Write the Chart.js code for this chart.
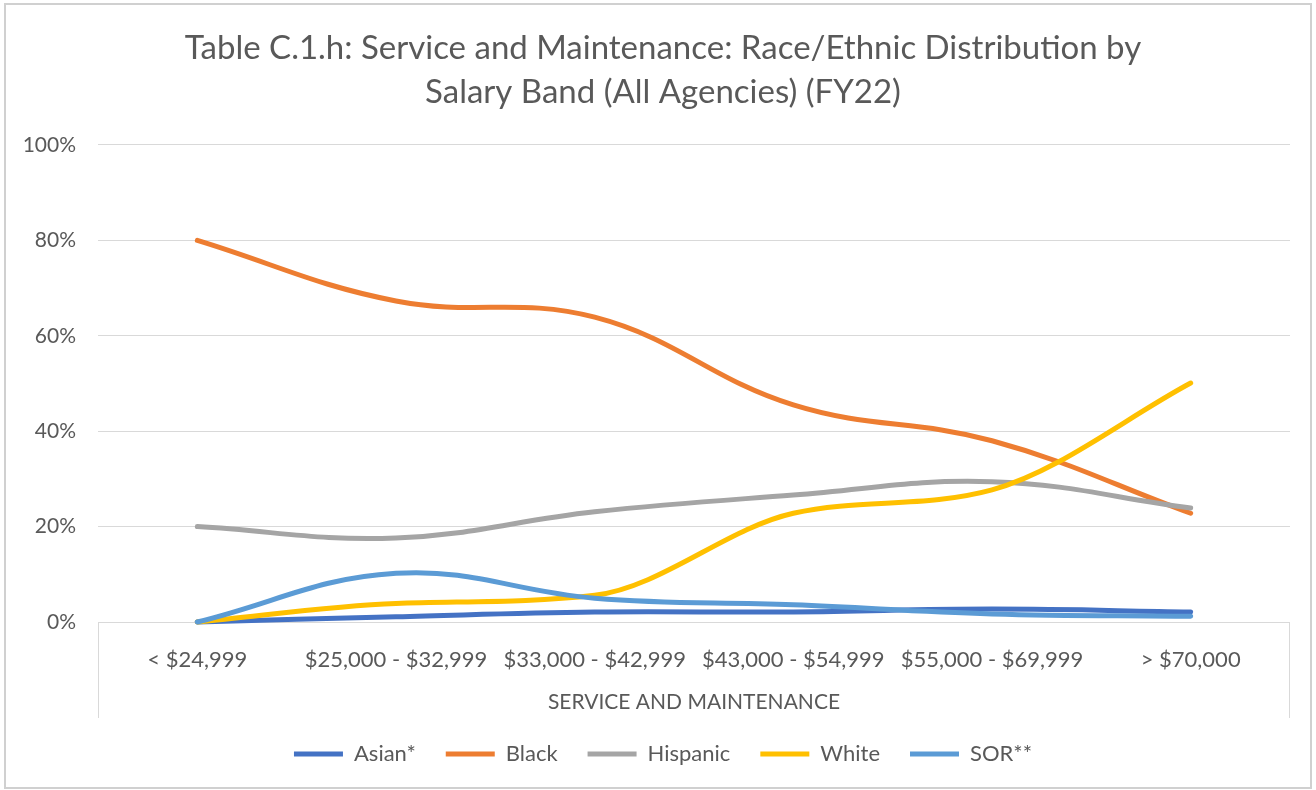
<!DOCTYPE html>
<html>
<head>
<meta charset="utf-8">
<script src="https://cdn.jsdelivr.net/npm/chart.js@4"></script>
<style>
  html, body { margin: 0; padding: 0; background: #ffffff; }
  #wrap { width: 1316px; height: 790px; position: relative; }
</style>
</head>
<body>
<div id="wrap"><canvas id="chart" width="1316" height="790"></canvas></div>
<script>
// Salary bands (category axis)
const salaryBands = ['< $24,999', '$25,000 - $32,999', '$33,000 - $42,999', '$43,000 - $54,999', '$55,000 - $69,999', '> $70,000'];

// Share of employees in each band, percent
const asian    = [0.0, 1.1, 2.1, 2.1, 2.7, 2.1];
const black    = [80.0, 67.3, 63.9, 45.5, 38.0, 22.8];
const hispanic = [20.0, 17.6, 23.1, 26.6, 29.4, 23.9];
const white    = [0.0, 3.9, 5.6, 22.8, 27.7, 50.1];
const sor      = [0.0, 10.2, 5.0, 3.6, 1.7, 1.2];

const seriesNames = ['Asian*', 'Black', 'Hispanic', 'White', 'SOR**'];
const seriesColors = ['#4472C4', '#ED7D31', '#A5A5A5', '#FFC000', '#5B9BD5'];
const seriesValues = [asian, black, hispanic, white, sor];

const yTicks = [0, 20, 40, 60, 80, 100];

const titleLines = ['Table C.1.h: Service and Maintenance: Race/Ethnic Distribution by', 'Salary Band (All Agencies) (FY22)'];
const xAxisTitle = 'SERVICE AND MAINTENANCE';

const FONT = 'Lato, "Open Sans", sans-serif';
const TEXT = '#595959';
const GRID = '#d9d9d9';

// Outer frame and the box around the category labels
const framePlugin = {
  id: 'frame',
  beforeDraw(chart) {
    const ctx = chart.ctx;
    ctx.save();
    ctx.fillStyle = '#ffffff';
    ctx.fillRect(0, 0, chart.width, chart.height);
    ctx.strokeStyle = '#d0d0d0';
    ctx.lineWidth = 2;
    ctx.strokeRect(5, 4, chart.width - 10, chart.height - 6);
    ctx.restore();
  },
  afterDraw(chart) {
    const ctx = chart.ctx;
    const a = chart.chartArea;
    ctx.save();
    ctx.strokeStyle = GRID;
    ctx.lineWidth = 1;
    ctx.beginPath();
    ctx.moveTo(Math.round(a.left) + 0.5, a.bottom);
    ctx.lineTo(Math.round(a.left) + 0.5, a.bottom + 96);
    ctx.moveTo(Math.round(a.right) - 0.5, a.bottom);
    ctx.lineTo(Math.round(a.right) - 0.5, a.bottom + 96);
    ctx.stroke();
    ctx.restore();
  }
};

const datasets = seriesNames.map((name, i) => ({
  label: name,
  data: seriesValues[i],
  borderColor: seriesColors[i],
  backgroundColor: seriesColors[i],
  borderWidth: 5,
  borderCapStyle: 'round',
  borderJoinStyle: 'round',
  tension: 0.4,
  cubicInterpolationMode: name === 'White' ? 'monotone' : 'default',
  pointRadius: 0,
  pointStyle: 'line',
  fill: false,
  order: seriesNames.length - i,
  clip: false
}));

new Chart(document.getElementById('chart'), {
  type: 'line',
  data: { labels: salaryBands, datasets },
  plugins: [framePlugin],
  options: {
    responsive: false,
    animation: false,
    layout: { padding: { left: 10, right: 0, top: 0, bottom: 15 } },
    plugins: {
      tooltip: { enabled: false },
      title: {
        display: true,
        text: titleLines,
        color: TEXT,
        font: { family: FONT, size: 33, weight: 'normal', lineHeight: 1.333 },
        padding: { top: 26, bottom: 31 }
      },
      legend: {
        position: 'bottom',
        labels: {
          usePointStyle: true,
          pointStyle: 'line',
          pointStyleWidth: 49,
          padding: 30,
          color: TEXT,
          font: { family: FONT, size: 22 },
          sort: (a, b) => a.datasetIndex - b.datasetIndex
        }
      }
    },
    scales: {
      x: {
        offset: true,
        grid: { display: false },
        border: { display: false },
        ticks: { color: TEXT, font: { family: FONT, size: 22 }, padding: 17, maxRotation: 0, autoSkip: false },
        title: { display: true, text: xAxisTitle, color: TEXT, font: { family: FONT, size: 21, lineHeight: 1.0 }, padding: { top: 0, bottom: 0 } },
        afterFit(scale) { scale.height = 91; }
      },
      y: {
        min: 0,
        max: 100,
        afterBuildTicks(scale) { scale.ticks = yTicks.map(v => ({ value: v })); },
        grid: { color: GRID, lineWidth: 1, drawTicks: false },
        border: { display: false },
        ticks: { color: TEXT, font: { family: FONT, size: 21 }, padding: 22, callback: v => v + '%' },
        afterFit(scale) { scale.width = 88; }
      },
      yPad: {
        position: 'right',
        display: true,
        grid: { display: false },
        border: { display: false },
        ticks: { display: false },
        afterFit(scale) { scale.width = 26; }
      }
    }
  }
});
</script>
</body>
</html>
